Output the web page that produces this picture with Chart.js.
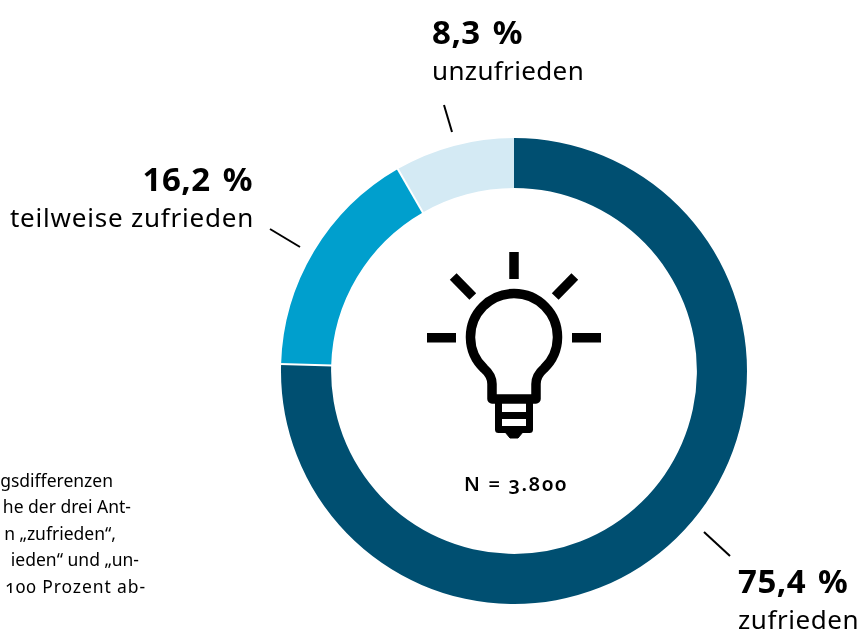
<!DOCTYPE html>
<html lang="de"><head><meta charset="utf-8">
<script src="https://cdn.jsdelivr.net/npm/chart.js@4"></script>
<style>
html,body{margin:0;padding:0;background:#fff;overflow:hidden;width:863px;height:635px}
canvas{position:absolute;left:0;top:0}
.t{position:absolute;white-space:nowrap;color:#000;font-family:"Noto Sans",sans-serif;line-height:1}
.p{font-size:33px;font-weight:700;letter-spacing:.5px;word-spacing:3px}
.n{font-size:26px;letter-spacing:.55px}
.f{font-size:17.5px;font-variant-numeric:oldstyle-nums}
.m{font-size:20px;font-weight:600;letter-spacing:1.7px;font-variant-numeric:oldstyle-nums}
svg{position:absolute;left:0;top:0}
</style></head><body>
<canvas id="c" width="863" height="635"></canvas>
<svg width="863" height="635" viewBox="0 0 863 635" fill="none" stroke="#000" stroke-linejoin="round">
<path d="M514 252V279M427 337.7H456M572 337.7H601M453.2 276.5L472.8 296.5M574.8 276.5L555.2 296.5" stroke-width="9.5"/>
<path d="M492 399V384C492 376 488 372 484 368.5A43.5 43.5 0 1 1 544 368.5C540 372 536 376 536 384V399Z" stroke-width="9.5"/>
<path d="M498.5 399V429.5H529.5V399M498.5 415.5H529.5" stroke-width="7"/>
<path d="M505 432H523L518 438H510Z" fill="#000" stroke-width="1"/>
</svg>
<div id="labels"></div>
<script>
const categories = ['zufrieden', 'teilweise zufrieden', 'unzufrieden'];
const values = [75.4, 16.2, 8.3];
const colors = ['#004f71', '#009fcd', '#d4eaf4'];
const valueLabels = ['75,4 %', '16,2 %', '8,3 %'];
const nLabel = 'N = 3.800';
const footnoteLines = ['gsdifferenzen', 'he der drei Ant-', 'n „zufrieden“,', 'ieden“ und „un-', '100 Prozent ab-'];

const decorations = {
  id: 'decorations',
  afterDatasetsDraw(chart) {
    const g = chart.ctx;
    g.save();
    // white separators taken from the arcs' own geometry
    g.strokeStyle = '#fff'; g.lineWidth = 2;
    chart.getDatasetMeta(0).data.slice(1).forEach(a => {
      const c = Math.cos(a.startAngle), s = Math.sin(a.startAngle);
      g.beginPath();
      g.moveTo(a.x + c * (a.innerRadius - 1), a.y + s * (a.innerRadius - 1));
      g.lineTo(a.x + c * (a.outerRadius + 1), a.y + s * (a.outerRadius + 1));
      g.stroke();
    });
    // leader lines
    g.strokeStyle = '#000';
    [[704,532,730,556],[300,247,270,229],[452,132,444,105]].forEach(s => {
      g.beginPath(); g.moveTo(s[0], s[1]); g.lineTo(s[2], s[3]); g.stroke();
    });
    g.restore();
  }
};

new Chart(document.getElementById('c'), {
  type: 'doughnut',
  data: { labels: categories, datasets: [{
    data: values, backgroundColor: colors, borderWidth: 0
  }]},
  options: {
    responsive: false, animation: false, cutout: '78.5%',
    layout: { padding: { left: 281, right: 116, top: 138, bottom: 31 } },
    plugins: { legend: { display: false }, tooltip: { enabled: false } }
  },
  plugins: [decorations]
});

const host = document.getElementById('labels');
function add(cls, txt, pos) {
  const d = document.createElement('div');
  d.className = 't ' + cls; d.textContent = txt;
  Object.assign(d.style, pos); host.appendChild(d);
}
add('p', valueLabels[2], {left:'432px', top:'15px'});
add('n', categories[2], {left:'432px', top:'57px', letterSpacing:'.35px'});
add('p', valueLabels[1], {right:(863-253)+'px', top:'162px'});
add('n', categories[1], {right:(863-254)+'px', top:'204px', letterSpacing:'.78px'});
add('p', valueLabels[0], {left:'738px', top:'564px'});
add('n', categories[0], {left:'738px', top:'606px'});
add('m', nLabel, {left:'464px', top:'474px'});
const ends = [113, 131, 116, 139, 146];
footnoteLines.forEach((l, i) => {
  add('f', l, {right:(863-ends[i])+'px', top:(472 + i*26.4)+'px', letterSpacing: i === 4 ? '.9px' : '0'});
});
</script>
</body></html>
